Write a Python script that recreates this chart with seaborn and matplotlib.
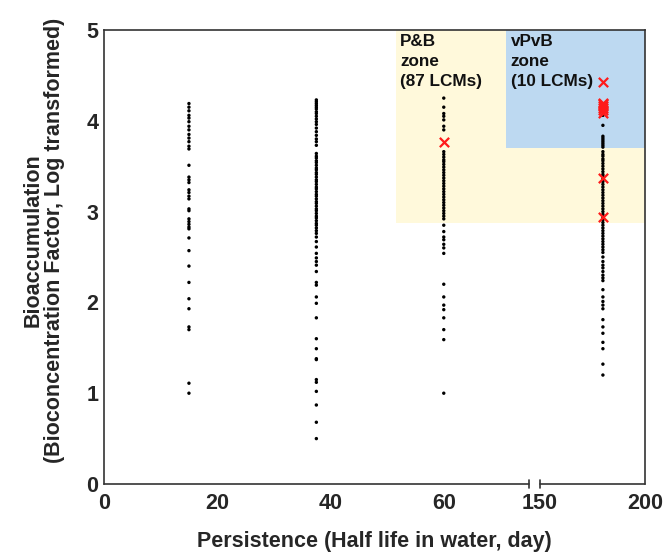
import numpy as np
import pandas as pd
import matplotlib
matplotlib.use("Agg")
import matplotlib.pyplot as plt
import matplotlib.transforms as mtransforms
import seaborn as sns

# ---------------- data ----------------
x_days = [15, 37.5, 60, 180]

col_15 = [4.19, 4.15, 4.11, 4.06, 4.03, 3.99, 3.94, 3.90, 3.85, 3.81, 3.77, 3.72, 3.69,
          3.51, 3.38, 3.35, 3.32, 3.24, 3.21, 3.17, 3.14, 3.03, 3.01, 2.92, 2.89, 2.86,
          2.83, 2.81, 2.71, 2.57, 2.40, 2.22, 2.04, 1.93, 1.73, 1.70, 1.11, 1.00]

col_37 = [4.23, 4.21, 4.19, 4.17, 4.15, 4.13, 4.10, 4.08, 4.05, 4.02, 3.99, 3.96, 3.92,
          3.88, 3.84, 3.80, 3.77, 3.73, 3.64, 3.61, 3.59, 3.56, 3.54, 3.51, 3.48, 3.46,
          3.43, 3.41, 3.38, 3.35, 3.33, 3.30, 3.27, 3.25, 3.22, 3.19, 3.17, 3.14, 3.11,
          3.09, 3.06, 3.03, 3.01, 2.98, 2.95, 2.93, 2.90, 2.87, 2.85, 2.82, 2.79, 2.76,
          2.72, 2.67, 2.61, 2.54, 2.49, 2.45, 2.41, 2.34, 2.22, 2.19, 2.06, 1.99, 1.83,
          1.60, 1.49, 1.38, 1.37, 1.15, 1.12, 1.02, 0.87, 0.68, 0.50]

col_60 = [4.25, 4.15, 4.08, 4.05, 4.01, 3.94, 3.90, 3.66, 3.63, 3.60, 3.57, 3.55, 3.52,
          3.49, 3.46, 3.43, 3.40, 3.37, 3.34, 3.31, 3.28, 3.25, 3.22, 3.19, 3.16, 3.13,
          3.10, 3.07, 3.04, 3.01, 2.98, 2.95, 2.92, 2.85, 2.78, 2.72, 2.69, 2.64, 2.60,
          2.54, 2.20, 2.06, 1.97, 1.92, 1.83, 1.70, 1.59, 1.00]

col_180 = [4.06, 3.95, 3.83, 3.81, 3.79, 3.77, 3.75, 3.73, 3.71, 3.66, 3.63, 3.61, 3.58,
           3.56, 3.53, 3.50, 3.47, 3.44, 3.41, 3.39, 3.36, 3.33, 3.30, 3.27, 3.24, 3.21,
           3.18, 3.15, 3.12, 3.09, 3.06, 3.03, 3.00, 2.97, 2.94, 2.91, 2.88, 2.85, 2.82,
           2.79, 2.76, 2.73, 2.70, 2.67, 2.64, 2.61, 2.58, 2.55, 2.50, 2.45, 2.41, 2.38,
           2.34, 2.30, 2.27, 2.24, 2.14, 2.06, 2.01, 1.97, 1.93, 1.81, 1.73, 1.66, 1.56,
           1.49, 1.32, 1.20]

# highlighted LCMs (red crosses)
lcm_x = [60, 180, 180, 180, 180, 180, 180, 180, 180, 180]
lcm_y = [3.77, 4.43, 4.20, 4.18, 4.16, 4.14, 4.12, 4.09, 3.37, 2.94]

# zones
pb_zone = dict(x0=51.5, x1=200, y0=2.875, y1=5.0)
vpvb_zone = dict(x0=71.0, x1=200, y0=3.70, y1=5.0)

x_ticks = [0, 20, 40, 60, 150, 200]
y_ticks = [0, 1, 2, 3, 4, 5]

# ---------------- frame ----------------
rows = []
for xv, col in zip(x_days, [col_15, col_37, col_60, col_180]):
    for yv in col:
        rows.append((xv, yv))
df = pd.DataFrame(rows, columns=["half_life", "log_bcf"])
df_lcm = pd.DataFrame({"half_life": lcm_x, "log_bcf": lcm_y})

# ---------------- broken-axis scale ----------------
SEG1_END, SEG2_START = 75.0, 150.0
GAP = 1.95
K = 0.3717


def fwd(x):
    x = np.asarray(x, dtype=float)
    return np.where(x <= SEG1_END, x,
                    np.where(x <= SEG2_START,
                             SEG1_END + (x - SEG1_END) * GAP / (SEG2_START - SEG1_END),
                             SEG1_END + GAP + (x - SEG2_START) * K))


def inv(u):
    u = np.asarray(u, dtype=float)
    return np.where(u <= SEG1_END, u,
                    np.where(u <= SEG1_END + GAP,
                             SEG1_END + (u - SEG1_END) * (SEG2_START - SEG1_END) / GAP,
                             SEG2_START + (u - SEG1_END - GAP) / K))


sns.set_style("white")
plt.rcParams['font.family'] = ['Liberation Sans', 'DejaVu Sans']

fig = plt.figure(figsize=(6.64, 5.55), dpi=100)
ax = fig.add_axes([104 / 664, 1 - 484 / 555, (645 - 104) / 664, (484 - 30) / 555])
ax.set_xscale('function', functions=(fwd, inv))
ax.set_xlim(0, 200)
ax.set_ylim(0, 5)

# zones
ax.fill_between([pb_zone['x0'], pb_zone['x1']], pb_zone['y0'], pb_zone['y1'],
                color='#FFF9DB', lw=0, zorder=0)
ax.fill_between([vpvb_zone['x0'], vpvb_zone['x1']], vpvb_zone['y0'], vpvb_zone['y1'],
                color='#BDD9F1', lw=0, zorder=0.5)

sns.scatterplot(data=df, x="half_life", y="log_bcf", ax=ax, color='black',
                s=6, marker='o', edgecolor='none', zorder=2, legend=False)
sns.scatterplot(data=df_lcm, x="half_life", y="log_bcf", ax=ax, color='#FF1A1A',
                s=45, marker='x', linewidth=1.6, zorder=3, legend=False)

# annotations
ax.text(52.3, 4.955, "P&B\nzone\n(87 LCMs)", ha='left', va='top', fontsize=12.3,
        fontweight='bold', color='#111111', linespacing=1.42, zorder=4)
ax.text(71.8, 4.955, "vPvB\nzone\n(10 LCMs)", ha='left', va='top', fontsize=12.3,
        fontweight='bold', color='#111111', linespacing=1.42, zorder=4)

# spines
spine_c = '#333333'
for side in ['left', 'right', 'top']:
    ax.spines[side].set_visible(True)
    ax.spines[side].set_color(spine_c)
    ax.spines[side].set_linewidth(1.2)
ax.spines['bottom'].set_visible(False)

trans = mtransforms.blended_transform_factory(ax.transData, ax.transAxes)
ax.plot([0, SEG1_END], [0, 0], color=spine_c, lw=1.2, transform=trans, clip_on=False, zorder=5)
ax.plot([SEG2_START, 200], [0, 0], color=spine_c, lw=1.2, transform=trans, clip_on=False, zorder=5)
for bx in [SEG1_END, SEG2_START]:
    ax.plot([bx, bx], [-0.008, 0.008], color=spine_c, lw=1.2, transform=trans,
            clip_on=False, zorder=5)

ax.set_xticks(x_ticks)
ax.set_xticklabels([str(t) for t in x_ticks])
ax.set_yticks(y_ticks)
ax.set_yticklabels([str(t) for t in y_ticks])
ax.tick_params(axis='x', direction='in', length=3, width=1.0, color=spine_c,
               labelsize=15.5, pad=6.5)
ax.tick_params(axis='y', direction='out', length=3, width=1.0, color=spine_c,
               labelsize=15.5, pad=1)
for lab in ax.get_xticklabels() + ax.get_yticklabels():
    lab.set_fontweight('bold')

ax.set_xlabel("Persistence (Half life in water, day)", fontsize=15.5,
              fontweight='bold', labelpad=12)
ax.set_ylabel("Bioaccumulation\n(Bioconcentration Factor, Log transformed)",
              fontsize=15.5, fontweight='bold', linespacing=1.05)
ax.yaxis.set_label_coords(-0.072, 0.537)

fig.savefig("out.png", dpi=100)
